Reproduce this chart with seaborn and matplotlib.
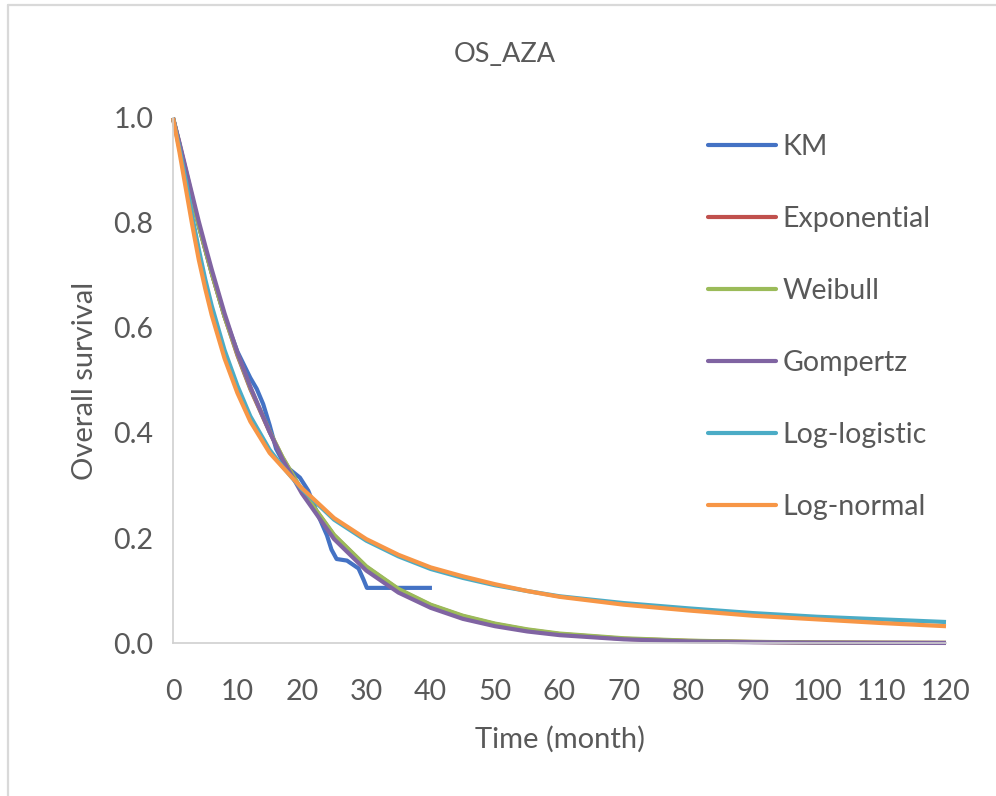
import matplotlib
matplotlib.use("Agg")
import matplotlib.pyplot as plt
import seaborn as sns
import pandas as pd
from matplotlib.lines import Line2D

# ------------------ Data ------------------
title = "OS_AZA"
x_label = "Time (month)"
y_label = "Overall survival"

km_time = [0, 2, 4, 6, 8, 10, 11, 12, 13, 14, 15, 16, 17, 18, 19.7, 21, 22.3, 23.9,
           24.6, 25.4, 27, 28.8, 29.6, 30.1, 31.1, 40.2]
km_surv = [1.0, 0.90, 0.795, 0.705, 0.622, 0.555, 0.53, 0.505, 0.484, 0.455, 0.415,
           0.37, 0.347, 0.332, 0.315, 0.29, 0.25, 0.205, 0.178, 0.16, 0.157, 0.142,
           0.12, 0.105, 0.105, 0.105]

model_time = [0, 1, 2, 3, 4, 5, 6, 8, 10, 12, 15, 17, 20, 25, 30, 35, 40, 45, 50,
              55, 60, 70, 80, 90, 100, 110, 120]
exponential = [1.0, 0.95, 0.895, 0.845, 0.795, 0.75, 0.705, 0.622, 0.548, 0.484, 0.402,
               0.353, 0.29, 0.205, 0.145, 0.102, 0.072, 0.051, 0.036, 0.025, 0.017,
               0.008, 0.004, 0.002, 0.001, 0.0005, 0.0002]
weibull = [1.0, 0.95, 0.895, 0.845, 0.795, 0.75, 0.705, 0.622, 0.55, 0.486, 0.403,
           0.354, 0.291, 0.206, 0.146, 0.103, 0.073, 0.052, 0.037, 0.026, 0.018,
           0.009, 0.0045, 0.0022, 0.0011, 0.0006, 0.0003]
gompertz = [1.0, 0.953, 0.903, 0.853, 0.803, 0.757, 0.712, 0.628, 0.553, 0.488, 0.402,
            0.35, 0.285, 0.198, 0.138, 0.096, 0.067, 0.046, 0.032, 0.022, 0.015,
            0.007, 0.003, 0.0015, 0.0007, 0.0003, 0.0001]
log_logistic = [1.0, 0.942, 0.88, 0.812, 0.75, 0.693, 0.643, 0.558, 0.49, 0.432, 0.368,
                0.336, 0.293, 0.235, 0.195, 0.165, 0.141, 0.124, 0.110, 0.099, 0.089,
                0.076, 0.066, 0.057, 0.050, 0.045, 0.040]
log_normal = [1.0, 0.935, 0.865, 0.795, 0.73, 0.675, 0.625, 0.542, 0.476, 0.422, 0.362,
              0.335, 0.295, 0.238, 0.198, 0.168, 0.144, 0.127, 0.112, 0.099, 0.088,
              0.073, 0.062, 0.052, 0.045, 0.038, 0.032]

series_names = ["KM", "Exponential", "Weibull", "Gompertz", "Log-logistic", "Log-normal"]
series_colors = ["#4472C4", "#C0504D", "#9BBB59", "#8064A2", "#4BACC6", "#F79646"]

# ------------------ Long table ------------------
frames = [pd.DataFrame({"time": km_time, "surv": km_surv, "curve": "KM"})]
for name, vals in zip(series_names[1:], [exponential, weibull, gompertz, log_logistic, log_normal]):
    frames.append(pd.DataFrame({"time": model_time, "surv": vals, "curve": name}))
df = pd.concat(frames, ignore_index=True)

# ------------------ Plot ------------------
sns.set_theme(style="white")
plt.rcParams["font.family"] = ["Lato", "DejaVu Sans"]
text_color = "#595959"

fig = plt.figure(figsize=(9.96, 7.96), dpi=100)
ax = fig.add_axes([0.1737, 0.1922, 0.7761, 0.6596])

sns.lineplot(data=df, x="time", y="surv", hue="curve", hue_order=series_names,
             palette=series_colors, linewidth=3.0, estimator=None, sort=False,
             legend=False, ax=ax)
for line in ax.lines:
    line.set_clip_on(False)
    line.set_solid_capstyle("butt")
    line.set_solid_joinstyle("round")

ax.set_xlim(0, 120)
ax.set_ylim(0, 1.0)
ax.set_xticks(range(0, 121, 10))
ax.set_yticks([0.0, 0.2, 0.4, 0.6, 0.8, 1.0])
ax.set_yticklabels([f"{v:.1f}" for v in [0.0, 0.2, 0.4, 0.6, 0.8, 1.0]])
ax.tick_params(axis="both", length=0, labelsize=20.5, colors=text_color)
ax.tick_params(axis="x", pad=26)
ax.tick_params(axis="y", pad=14)

for side in ["top", "right"]:
    ax.spines[side].set_visible(False)
for side in ["left", "bottom"]:
    ax.spines[side].set_color("#D0D0D0")
    ax.spines[side].set_linewidth(1.2)

ax.set_xlabel(x_label, fontsize=21, color=text_color, labelpad=15)
ax.set_ylabel(y_label, fontsize=21, color=text_color, labelpad=11)
fig.text(0.507, 0.932, title, fontsize=19.5, color=text_color, ha="center", va="center")

handles = [Line2D([0], [0], color=c, lw=3.0) for c in series_colors]
leg = fig.legend(handles, series_names, loc="upper left",
                 bbox_to_anchor=(0.711, 0.832), frameon=False, fontsize=20.5,
                 handlelength=2.4, handletextpad=0.2, labelspacing=1.62,
                 borderpad=0, borderaxespad=0)
for t in leg.get_texts():
    t.set_color(text_color)

# chart-area border (visible on the left and top)
fig.add_artist(Line2D([0.008, 0.008], [0, 0.994], color="#D9D9D9", lw=1.6))
fig.add_artist(Line2D([0.008, 1], [0.994, 0.994], color="#D9D9D9", lw=1.6))

fig.savefig("out.png", dpi=100, facecolor="white")
